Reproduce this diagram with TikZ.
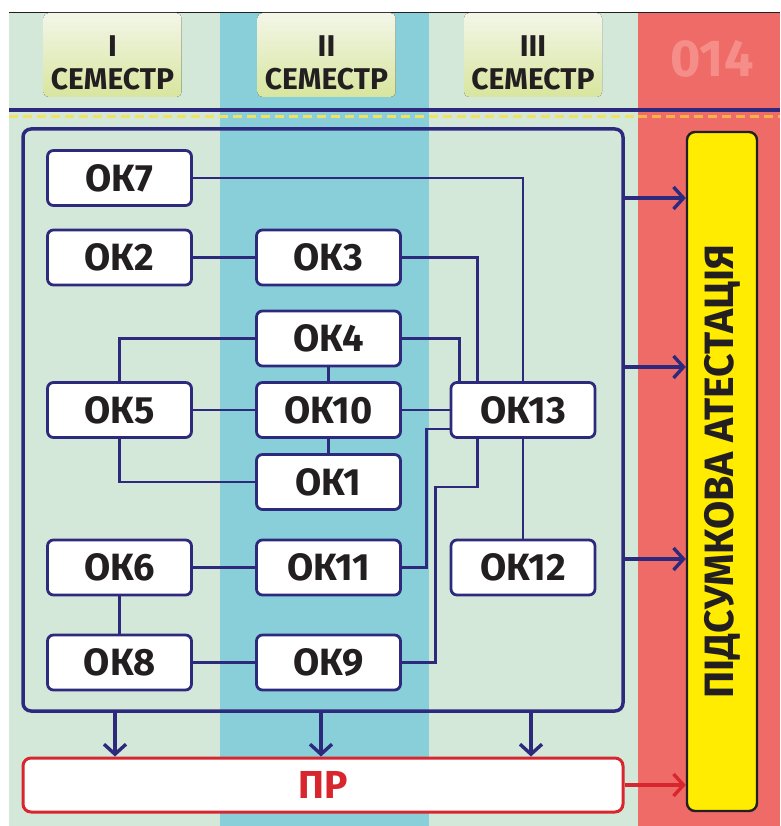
\documentclass[tikz,border=0pt]{standalone}
\usepackage{fontspec}
\setmainfont{Fira Sans}
\usepackage{tikz}
\usetikzlibrary{arrows.meta, positioning, calc}

\definecolor{navy}{RGB}{45,42,126}
\definecolor{ink}{RGB}{35,31,32}
\definecolor{redline}{RGB}{215,38,46}
\definecolor{colgreen}{RGB}{212,232,218}
\definecolor{colblue}{RGB}{137,207,218}
\definecolor{colred}{RGB}{239,107,103}
\definecolor{attyellow}{RGB}{255,236,0}
\definecolor{headtop}{RGB}{243,246,232}
\definecolor{headbot}{RGB}{216,229,158}
\definecolor{codered}{RGB}{245,142,137}
\definecolor{dashyellow}{RGB}{240,225,95}
\definecolor{dashorange}{RGB}{247,178,74}

\pgfdeclarelayer{fills}
\pgfdeclarelayer{wires}
\pgfsetlayers{fills,wires,main}

\begin{document}
\begin{tikzpicture}[
  x=1pt, y=-1pt,
  every node/.style={text=ink, font=\bfseries},
  okbox/.style={draw=navy, line width=2.8pt, fill=white, rounded corners=6pt,
    minimum width=144pt, minimum height=55pt, inner sep=0pt,
    font=\fontsize{38}{38}\selectfont\bfseries},
  frame/.style={draw=navy, line width=3.5pt, rounded corners=8pt,
    minimum width=600pt, minimum height=582pt},
  prbox/.style={draw=redline, line width=3pt, fill=white, rounded corners=8pt,
    minimum width=600pt, minimum height=54pt, inner sep=0pt, text=redline,
    font=\fontsize{39}{39}\selectfont\bfseries},
  finalbox/.style={draw=ink, line width=2.4pt, fill=attyellow, rounded corners=8pt,
    rotate=90, minimum width=679pt, minimum height=70pt, inner sep=0pt,
    font=\fontsize{41}{41}\selectfont\bfseries},
  semlabel/.style={align=center, inner sep=0pt,
    font=\fontsize{30}{33}\selectfont\bfseries},
  headbox/.style={top color=headtop, bottom color=headbot, rounded corners=5pt},
  link/.style={draw=navy, line width=2.8pt},
  arr/.style={navy, line width=3.4pt, -{Straight Barb[length=10pt, width=22pt]}},
  redarr/.style={arr, redline},
]
  \useasboundingbox (0,0) rectangle (780,826);

  % Columns
  \begin{pgfonlayer}{fills}
    \fill[white] (0,0) rectangle (780,826);
    \fill[colgreen] (9,12) rectangle (220,826);
    \fill[colblue] (220,12) rectangle (429,826);
    \fill[colgreen] (429,12) rectangle (638,826);
    \fill[colred] (638,12) rectangle (780,826);
    \draw[ink, line width=0.8pt] (9,12) -- (780,12);
    \foreach \lbl/\x in {I/112.5, II/326.5, III/533} {
      \fill[headbox] (\x-69,13) rectangle (\x+69,97);
    }
    \draw[navy, line width=3.6pt] (9,110) -- (780,110);
    \draw[dashyellow, line width=3pt, dash pattern=on 9pt off 5pt] (9,116.5) -- (638,116.5);
    \draw[dashorange, line width=3pt, dash pattern=on 9pt off 5pt] (638,116.5) -- (780,116.5);
  \end{pgfonlayer}

  % Semester headers
  \foreach \lbl/\x in {I/112.5, II/326.5, III/533} {
    \node[semlabel] (sem\lbl) at (\x,63) {\lbl\\СЕМЕСТР};
  }
  \node[text=codered, font=\fontsize{52}{52}\selectfont\bfseries] (code) at (712,59) {014};

  % Outer frame, final attestation, practice
  \node[frame] (core) at (323,420) {};
  \node[finalbox] (final) at (722,471.5) {ПІДСУМКОВА АТЕСТАЦІЯ};
  \node[prbox] (pr) at (323,785) {ПР};

  % Components
  \foreach \n/\x/\y in {7/119.5/178, 2/119.5/257.5, 3/328.5/257.5, 4/328.5/338.5,
      5/119.5/410, 10/328.5/410, 13/523/410, 1/328.5/482,
      6/119.5/567.5, 11/328.5/567.5, 12/523/567.5, 8/119.5/662.5, 9/328.5/662.5} {
    \node[okbox] (ok\n) at (\x,\y) {ОК\n};
  }

  % Links
  \begin{pgfonlayer}{wires}
    \draw[link] (ok7) -| (ok12);
    \draw[link] (ok2) -- (ok3);
    \draw[link] (ok3) -| ([xshift=28pt]ok13.north west);
    \draw[link] (ok4) -| ([xshift=10pt]ok13.north west);
    \draw[link] (ok4) -| (ok5);
    \draw[link] (ok4) -- (ok10);
    \draw[link] (ok10) -- (ok1);
    \draw[link] (ok5) -- (ok10);
    \draw[link] (ok10) -- (ok13);
    \draw[link] (ok5) |- (ok1);
    \draw[link] (ok11) -| ([xshift=-23pt, yshift=-19pt]ok13.west)
      -- ([yshift=-19pt]ok13.west);
    \draw[link] (ok9) -| ([xshift=-14pt, yshift=-48pt]ok13.south west)
      -| ([xshift=28pt]ok13.south west);
    \draw[link] (ok6) -- (ok11);
    \draw[link] (ok6) -- (ok8);
    \draw[link] (ok8) -- (ok9);
  \end{pgfonlayer}

  % Arrows out of the frame
  \foreach \y in {198, 367, 559} {
    \draw[arr] (core.east |- 0,\y) -- (final.north |- 0,\y);
  }
  \foreach \x in {115, 321, 531} {
    \draw[arr] (core.south -| \x,0) -- (pr.north -| \x,0);
  }
  \draw[redarr] (pr.east) -- (final.north |- pr.east);
\end{tikzpicture}
\end{document}
